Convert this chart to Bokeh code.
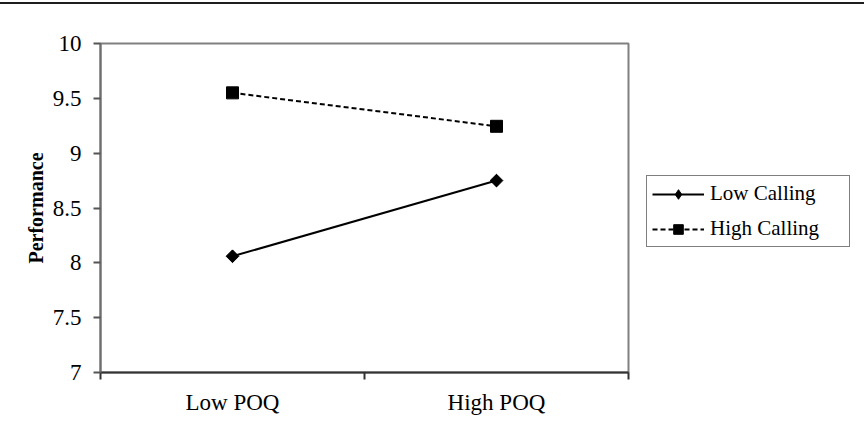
from bokeh.plotting import figure
from bokeh.models import Range1d, FixedTicker, Legend, LegendItem, ColumnDataSource
from bokeh.embed import file_html
from bokeh.resources import INLINE
import math

categories = ["Low POQ", "High POQ"]
low_calling = [8.06, 8.75]
high_calling = [9.55, 9.245]
series_names = ["Low Calling", "High Calling"]
y_ticks = [7, 7.5, 8, 8.5, 9, 9.5, 10]
y_tick_labels = ["7", "7.5", "8", "8.5", "9", "9.5", "10"]
y_label = "Performance"

FONT = "Liberation Serif"

xpos = [i + 0.5 for i in range(len(categories))]

p = figure(
    frame_width=528, frame_height=329,
    min_border_left=100, min_border_right=234,
    min_border_top=39, min_border_bottom=64,
    x_range=Range1d(0, len(categories)), y_range=Range1d(7, 10),
    output_backend="svg", toolbar_location=None,
    background_fill_color="white", border_fill_color="white",
)
p.styles = {"border-top": "2px solid #1e1e1e", "border-right": "2px solid #808080", "margin-top": "2px"}
p.grid.visible = False
p.outline_line_color = "#808080"
p.outline_line_width = 2

# y axis
ya = p.yaxis[0]
ya.ticker = FixedTicker(ticks=y_ticks, minor_ticks=[])
ya.major_label_overrides = {t: l for t, l in zip(y_ticks, y_tick_labels)}
ya.major_label_text_font = FONT
ya.major_label_text_font_size = "23px"
ya.major_label_text_color = "black"
ya.major_tick_out = 7
ya.major_tick_in = 0
ya.major_tick_line_color = "#555555"
ya.major_tick_line_width = 2
ya.minor_tick_line_color = None
ya.axis_line_color = "#6e6e6e"
ya.axis_line_width = 2
ya.major_label_standoff = 12
ya.axis_label = y_label
ya.axis_label_text_font = FONT
ya.axis_label_text_font_style = "bold"
ya.axis_label_text_font_size = "20px"
ya.axis_label_text_color = "black"
ya.axis_label_standoff = 3

# x axis
xa = p.xaxis[0]
xa.ticker = FixedTicker(ticks=xpos, minor_ticks=list(range(len(categories) + 1)))
xa.major_label_overrides = {x: c for x, c in zip(xpos, categories)}
xa.major_label_text_font = FONT
xa.major_label_text_font_size = "23px"
xa.major_label_text_color = "black"
xa.major_tick_out = 0
xa.major_tick_in = 0
xa.major_tick_line_color = None
xa.minor_tick_out = 7
xa.minor_tick_in = 0
xa.minor_tick_line_color = "#333333"
xa.minor_tick_line_width = 2
xa.axis_line_color = "#333333"
xa.axis_line_width = 2
xa.major_label_standoff = 10

src_low = ColumnDataSource(dict(x=xpos, y=low_calling))
src_high = ColumnDataSource(dict(x=xpos, y=high_calling))

l1 = p.line("x", "y", source=src_low, line_color="black", line_width=2)
m1 = p.scatter("x", "y", source=src_low, marker="square", size=9, angle=math.pi / 4,
               fill_color="black", line_color="black")
# diamond used for the legend key (sits inside the rotated square in the plot)
m1d = p.scatter("x", "y", source=src_low, marker="diamond", size=12,
                fill_color="black", line_color="black")
l2 = p.line("x", "y", source=src_high, line_color="black", line_width=2, line_dash="5 3")
m2 = p.scatter("x", "y", source=src_high, marker="square", size=12,
               fill_color="black", line_color="black")

legend = Legend(
    items=[LegendItem(label=series_names[0], renderers=[l1, m1d]),
           LegendItem(label=series_names[1], renderers=[l2, m2])],
    location=(18, 125),
    orientation="vertical",
)
legend.margin = 0
legend.padding = 5
legend.spacing = 10
legend.glyph_width = 52
legend.glyph_height = 24
legend.label_height = 22
legend.label_width = 134
legend.label_standoff = 6
legend.label_text_font = FONT
legend.label_text_font_size = "21px"
legend.label_text_color = "black"
legend.border_line_color = "black"
legend.border_line_width = 1
legend.background_fill_color = "white"
legend.background_fill_alpha = 1
p.add_layout(legend, "right")

open("out.html", "w").write(file_html(p, INLINE))
